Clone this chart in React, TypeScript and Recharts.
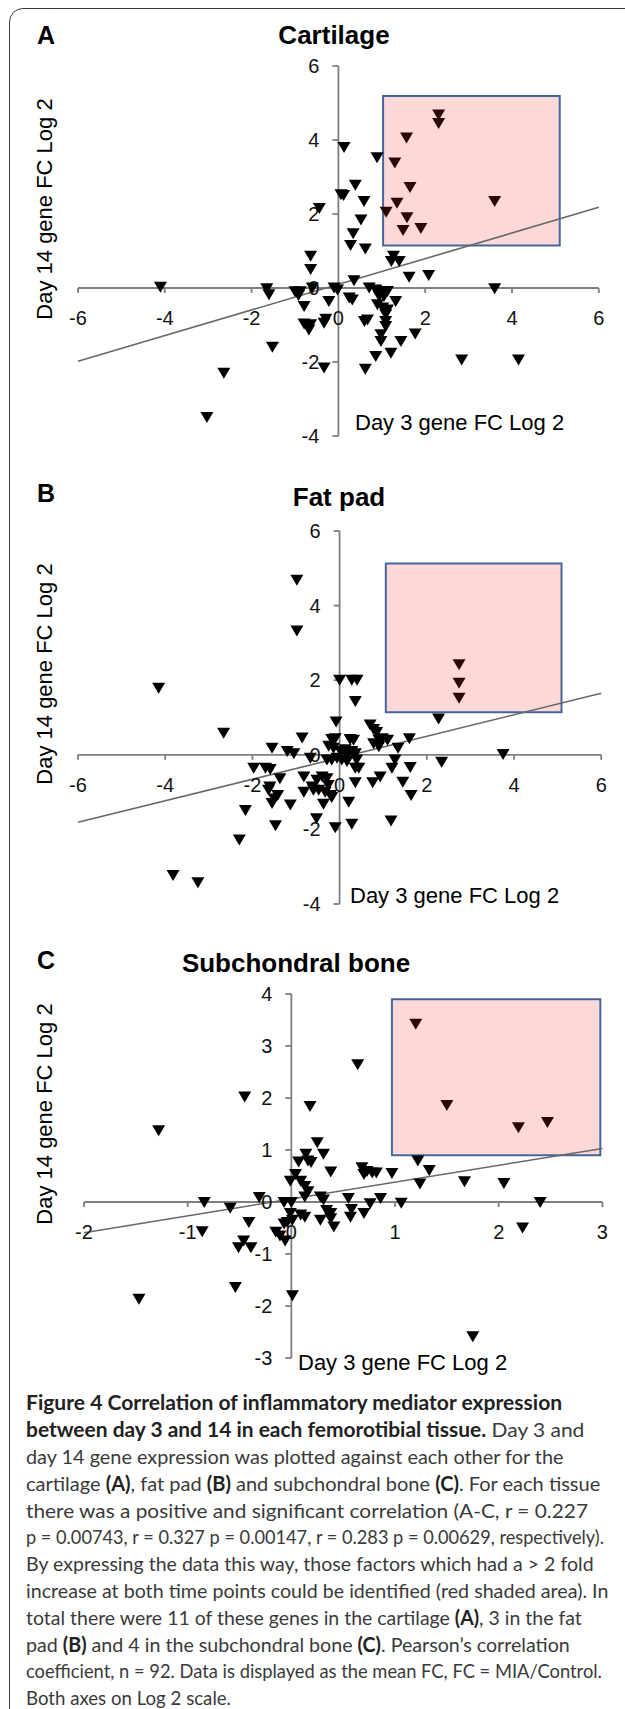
import React, { useLayoutEffect, useRef, useState } from "react";
import {
  ScatterChart,
  Scatter,
  XAxis,
  YAxis,
  ReferenceLine,
  ReferenceArea,
  ReferenceDot,
} from "recharts";

// cartilage (A): day 3 vs day 14 fold change, log2
const cartilageDay3 = [
  -4.1, -1.65, -1.6, -1.52, -2.64, -3.03, -1.0, -0.88, -0.92, -0.64, -0.64, -0.6, -0.79, -0.79, -0.64,
  -0.68, -0.33, -0.29, -0.22, -0.33, -0.1, -0.02, 0.13, 0.06, 0.12, 0.39, -0.44, 0.59, 0.52, 0.34, 0.28,
  0.62, 0.36, 0.25, 0.32, 0.89, 0.71, 0.86, 0.98, 1.13, 0.94, 1.05, 1.32, 0.9, 1.02, 1.13, 1.09, 1.09,
  1.09, 0.67, 0.6, 0.98, 0.98, 1.44, 1.77, 0.86, 1.21, 0.62, 2.84, 4.15, 3.6, 1.63, 2.08, 1.27, 1.4, 1.22,
  2.31, 2.31, 1.57, 1.3, 1.65, 3.6, 1.1, 1.35, 1.58, 1.49, 1.9,
];
const cartilageDay14 = [
  0.02, -0.02, -0.18, -1.6, -2.3, -3.5, -0.1, -0.1, -0.2, 0.86, 0.5, 0.0, -0.5, -0.97, -0.99, -1.13,
  -0.95, -0.84, -0.36, -2.16, 0.0, -0.05, 3.8, 2.52, 2.5, 2.78, 2.15, 2.34, 1.84, 1.47, 1.15, 1.06, 0.2,
  -0.27, -0.32, 3.52, 0.0, -0.05, -0.09, -0.09, -0.23, -0.23, -0.36, -0.45, -0.54, -0.59, -0.72, -0.9,
  -1.04, -0.86, -0.9, -1.26, -1.44, -1.44, -1.24, -1.85, -1.76, -2.19, -1.94, -1.94, -0.02, 0.29, 0.34,
  0.86, 0.72, 0.72, 4.68, 4.45, 4.06, 3.38, 2.72, 2.34, 2.05, 2.29, 1.9, 1.56, 1.61,
];

// fat pad (B)
const fatPadDay3 = [
  -0.98, -0.98, -4.15, -2.66, 0.0, 0.28, 0.4, 0.36, 2.74, 2.74, 2.74, 2.27, -0.08, 0.7, 0.78, 0.85, 0.9,
  0.9, 0.78, 0.98, 1.1, 1.6, 1.34, 1.27, 1.2, 1.62, 3.75, 2.34, 0.93, 0.76, 1.45, 1.64, 1.18, 0.36, 0.21,
  0.28, -0.1, -0.53, -1.47, -1.13, -1.55, -1.5, -1.42, -1.63, -1.6, -1.37, -1.97, -1.7, -1.59, -1.55,
  -1.2, -1.05, -0.86, -0.67, -0.18, -0.1, 0.24, 0.32, -0.25, -0.14, 0.02, 0.13, 0.17, 0.28, 0.36, -0.06,
  0.05, -0.18, -0.29, 0.39, 0.36, 0.44, 0.17, -0.82, -0.63, -0.52, -0.4, -0.29, -0.48, -0.33, -0.26,
  -0.21, -0.37, -0.18, -0.82, -0.6, -2.16, -2.3, -3.82, -3.25,
];
const fatPadDay14 = [
  4.68, 3.32, 1.79, 0.58, 2.0, 2.0, 2.0, 1.43, 2.42, 1.92, 1.52, 0.96, 0.88, 0.8, 0.68, 0.6, 0.4, 0.22,
  0.3, 0.43, 0.39, 0.43, 0.18, -0.14, -0.36, -0.34, 0.01, -0.2, -0.59, -0.75, -0.73, -1.09, -1.77, -0.75,
  -1.27, -1.86, -1.95, -1.71, -1.9, -1.34, -1.3, -1.18, -1.09, -0.95, -0.86, -0.64, -0.36, -0.36, -0.39,
  0.18, 0.09, 0.03, 0.45, -0.09, 0.41, 0.43, 0.41, 0.39, 0.23, 0.18, 0.09, 0.14, 0.0, 0.09, 0.03, -0.09,
  -0.14, -0.14, -0.14, -0.14, -0.36, -0.36, -0.18, -0.59, -0.86, -0.68, -0.59, -0.64, -0.95, -1.0, -0.82,
  -1.09, -1.32, -1.14, -1.0, -0.95, -1.49, -2.28, -3.23, -3.43,
];

// subchondral bone (C)
const boneDay3 = [
  -1.28, -1.47, -0.45, 0.64, 0.18, 1.5, 2.19, 2.47, 1.2, 1.22, 1.33, 1.24, 1.67, 2.05, 2.4, 2.23, 1.75,
  1.06, 0.97, 0.86, 0.76, 0.7, 0.68, 0.73, 0.7, 0.82, 0.78, 0.55, 0.58, 0.57, 0.38, 0.25, 0.31, 0.14,
  0.16, 0.07, 0.19, 0.04, -0.01, 0.09, 0.13, 0.16, 0.13, 0.28, 0.31, 0.09, 0.13, 0.28, 0.34, 0.38, 0.38,
  0.41, -0.07, 0.0, -0.01, 0.01, -0.04, -0.07, -0.15, -0.11, -0.06, -0.31, -0.59, -0.84, -0.86, -0.41,
  -0.46, -0.51, -0.39, -0.54, 0.01,
];
const boneDay14 = [
  1.37, -1.87, 2.02, 2.64, 1.84, 1.86, 1.43, 1.53, 3.42, 0.79, 0.61, 0.35, 0.39, 0.36, -0.01, -0.5,
  -2.59, -0.02, 0.55, 0.07, -0.03, -0.22, 0.66, 0.59, 0.53, 0.56, 0.56, 0.07, -0.14, -0.29, 0.58, 1.14,
  0.92, 0.92, 0.79, 0.77, 0.76, 0.53, 0.4, 0.4, 0.3, 0.2, 0.1, 0.1, 0.04, -0.25, -0.29, -0.35, -0.16,
  -0.22, -0.32, -0.48, -0.01, -0.01, -0.22, -0.35, -0.39, -0.42, -0.58, -0.65, -0.75, 0.09, -0.12, -0.01,
  -0.57, -0.39, -0.75, -0.88, -0.88, -1.64, -1.8,
];

const wideXTicks = [-6, -4, -2, 0, 2, 4, 6];
const wideYTicks = [-4, -2, 0, 2, 4, 6];
const boneXTicks = [-2, -1, 0, 1, 2, 3];
const boneYTicks = [-3, -2, -1, 0, 1, 2, 3, 4];

// fitted regression lines (end points)
const cartilageTrend = [{ x: -6, y: -1.98 }, { x: 6, y: 2.18 }];
const fatPadTrend = [{ x: -6, y: -1.81 }, { x: 6, y: 1.65 }];
const boneTrend = [{ x: -2, y: -0.59 }, { x: 3, y: 1.03 }];

// >2 fold at both time points (x1, x2, y1, y2)
const cartilageBox = [1.03, 5.1, 1.15, 5.19];
const fatPadBox = [1.06, 5.09, 1.14, 5.13];
const boneBox = [0.97, 2.98, 0.9, 3.9];

const captionLines: [string, boolean][][] = [
  [["Figure 4 Correlation of inflammatory mediator expression", true]],
  [["between day 3 and 14 in each femorotibial tissue.", true], [" Day 3 and", false]],
  [["day 14 gene expression was plotted against each other for the", false]],
  [
    ["cartilage ", false], ["(A)", true], [", fat pad ", false], ["(B)", true],
    [" and subchondral bone ", false], ["(C)", true], [". For each tissue", false],
  ],
  [["there was a positive and significant correlation (A-C, r = 0.227", false]],
  [["p = 0.00743, r = 0.327 p = 0.00147, r = 0.283 p = 0.00629, respectively).", false]],
  [["By expressing the data this way, those factors which had a > 2 fold", false]],
  [["increase at both time points could be identified (red shaded area). In", false]],
  [["total there were 11 of these genes in the cartilage ", false], ["(A)", true], [", 3 in the fat", false]],
  [["pad ", false], ["(B)", true], [" and 4 in the subchondral bone ", false], ["(C)", true], [". Pearson\u2019s correlation", false]],
  [["coefficient, n = 92. Data is displayed as the mean FC, FC = MIA/Control.", false]],
  [["Both axes on Log 2 scale.", false]],
];
const captionEnds = [562, 584, 564, 600, 588, 604, 594, 608, 582, 570, 602, 231];

const FONT = '"Liberation Sans", Arial, sans-serif';
const AXIS = "#7f7f7f";
const M = 30;

const zip = (xs: number[], ys: number[]) => xs.map((x, i) => ({ x, y: ys[i] }));

// down-pointing triangle; points under the shaded box look tinted
const triangle = (box: number[]) => (props: any) => {
  const { cx, cy, payload } = props;
  if (cx == null || cy == null) return null;
  const inside =
    payload && payload.x >= box[0] && payload.x <= box[1] && payload.y >= box[2] && payload.y <= box[3];
  return (
    <polygon
      points={`${cx - 6.5},${cy - 5.4} ${cx + 6.5},${cy - 5.4} ${cx},${cy + 5.6}`}
      fill={inside ? "#2c0606" : "#000"}
    />
  );
};

const xTick = (label: number) => (p: any) => (
  <g>
    <line x1={p.cx} y1={p.cy} x2={p.cx} y2={p.cy + 5} stroke={AXIS} strokeWidth={1.8} />
    <text x={p.cx} y={p.cy + 37} textAnchor="middle" fontSize={20} fontFamily={FONT} fill="#111">
      {label}
    </text>
  </g>
);

const yTick = (label: number) => (p: any) => (
  <g>
    <line x1={p.cx - 6} y1={p.cy} x2={p.cx} y2={p.cy} stroke={AXIS} strokeWidth={1.8} />
    <text x={p.cx - 19} y={p.cy + 7} textAnchor="end" fontSize={20} fontFamily={FONT} fill="#111">
      {label}
    </text>
  </g>
);

interface PanelProps {
  xs: number[];
  ys: number[];
  xTicks: number[];
  yTicks: number[];
  trend: { x: number; y: number }[];
  box: number[];
  plot: { left: number; top: number; width: number; height: number };
}

function Panel({ xs, ys, xTicks, yTicks, trend, box, plot }: PanelProps) {
  const data = zip(xs, ys);
  return (
    <div style={{ position: "absolute", left: plot.left - M, top: plot.top - M }}>
      <ScatterChart
        width={plot.width + 2 * M}
        height={plot.height + 2 * M}
        margin={{ top: M, right: M, bottom: M, left: M }}
      >
        <XAxis
          type="number"
          dataKey="x"
          domain={[xTicks[0], xTicks[xTicks.length - 1]]}
          allowDataOverflow
          hide
        />
        <YAxis
          type="number"
          dataKey="y"
          domain={[yTicks[0], yTicks[yTicks.length - 1]]}
          allowDataOverflow
          hide
        />
        <ReferenceArea
          x1={box[0]}
          x2={box[1]}
          y1={box[2]}
          y2={box[3]}
          fill="#fdd8d8"
          fillOpacity={1}
          stroke="#44679b"
          strokeWidth={2}
          strokeOpacity={1}
          ifOverflow="visible"
        />
        <ReferenceLine x={0} stroke={AXIS} strokeWidth={1.8} ifOverflow="visible" />
        <ReferenceLine y={0} stroke={AXIS} strokeWidth={1.8} ifOverflow="visible" />
        {xTicks.map((t) => (
          <ReferenceDot key={"x" + t} x={t} y={0} r={0} ifOverflow="visible" shape={xTick(t)} />
        ))}
        {yTicks.map((t) => (
          <ReferenceDot key={"y" + t} x={0} y={t} r={0} ifOverflow="visible" shape={yTick(t)} />
        ))}
        <ReferenceLine segment={trend} stroke="#686868" strokeWidth={1.6} ifOverflow="visible" />
        <Scatter data={data} shape={triangle(box)} isAnimationActive={false} />
      </ScatterChart>
    </div>
  );
}

function Txt({
  x,
  y,
  size,
  bold,
  rotate,
  left,
  children,
}: {
  x: number;
  y: number;
  size: number;
  bold?: boolean;
  rotate?: boolean;
  left?: boolean;
  children: React.ReactNode;
}) {
  const shift = left ? "translate(0,-50%)" : "translate(-50%,-50%)";
  return (
    <div
      style={{
        position: "absolute",
        left: x,
        top: y,
        transform: shift + (rotate ? " rotate(-90deg)" : ""),
        fontFamily: FONT,
        fontSize: size,
        fontWeight: bold ? 700 : 400,
        whiteSpace: "nowrap",
        lineHeight: 1,
        color: "#000",
      }}
    >
      {children}
    </div>
  );
}

// one caption line, squeezed horizontally to the width it has in the figure
function CaptionLine({ segs, y, width }: { segs: [string, boolean][]; y: number; width: number }) {
  const ref = useRef<HTMLDivElement>(null);
  const [scale, setScale] = useState(1);
  useLayoutEffect(() => {
    const w = ref.current ? ref.current.offsetWidth : 0;
    if (w > 0) setScale(width / w);
  }, [width]);
  return (
    <div
      ref={ref}
      style={{
        position: "absolute",
        left: 26,
        top: y,
        transformOrigin: "0 50%",
        transform: `translateY(-50%) scaleX(${scale})`,
        whiteSpace: "pre",
        fontFamily: "Lato, 'Open Sans', sans-serif",
        fontSize: 20,
        lineHeight: 1.2,
        color: "#3a3a3a",
      }}
    >
      {segs.map(([t, b], j) => (
        <span key={j} style={{ fontWeight: b ? 700 : 400, color: b ? "#222" : "#3a3a3a" }}>
          {t}
        </span>
      ))}
    </div>
  );
}

export default function App() {
  return (
    <div
      style={{
        position: "absolute",
        left: 0,
        top: 0,
        width: 625,
        height: 1709,
        overflow: "hidden",
        background: "#fff",
      }}
    >
      <div
        style={{
          position: "absolute",
          left: 9,
          top: 8,
          width: 800,
          height: 1900,
          border: "1.5px solid #3a3a3a",
          borderTopLeftRadius: 14,
        }}
      />

      <Txt x={46} y={35} size={25} bold>A</Txt>
      <Txt x={334} y={35} size={26} bold>Cartilage</Txt>
      <Txt x={45} y={209} size={22} rotate>Day 14 gene FC Log 2</Txt>
      <Txt x={355} y={423} size={22} left>Day 3 gene FC Log 2</Txt>
      <Panel
        xs={cartilageDay3}
        ys={cartilageDay14}
        xTicks={wideXTicks}
        yTicks={wideYTicks}
        trend={cartilageTrend}
        box={cartilageBox}
        plot={{ left: 77.6, top: 66, width: 520.8, height: 370 }}
      />

      <Txt x={46} y={493} size={25} bold>B</Txt>
      <Txt x={339} y={497} size={26} bold>Fat pad</Txt>
      <Txt x={45} y={674} size={22} rotate>Day 14 gene FC Log 2</Txt>
      <Txt x={350} y={896} size={22} left>Day 3 gene FC Log 2</Txt>
      <Panel
        xs={fatPadDay3}
        ys={fatPadDay14}
        xTicks={wideXTicks}
        yTicks={wideYTicks}
        trend={fatPadTrend}
        box={fatPadBox}
        plot={{ left: 77.7, top: 531, width: 523.2, height: 373 }}
      />

      <Txt x={46} y={960} size={25} bold>C</Txt>
      <Txt x={296} y={963} size={26} bold>Subchondral bone</Txt>
      <Txt x={45} y={1114} size={22} rotate>Day 14 gene FC Log 2</Txt>
      <Txt x={298} y={1363} size={22} left>Day 3 gene FC Log 2</Txt>
      <Panel
        xs={boneDay3}
        ys={boneDay14}
        xTicks={boneXTicks}
        yTicks={boneYTicks}
        trend={boneTrend}
        box={boneBox}
        plot={{ left: 83.6, top: 994, width: 518.4, height: 364 }}
      />

      {captionLines.map((segs, i) => (
        <CaptionLine key={i} segs={segs} y={1402.3 + i * 26.8} width={captionEnds[i] - 26} />
      ))}
    </div>
  );
}
